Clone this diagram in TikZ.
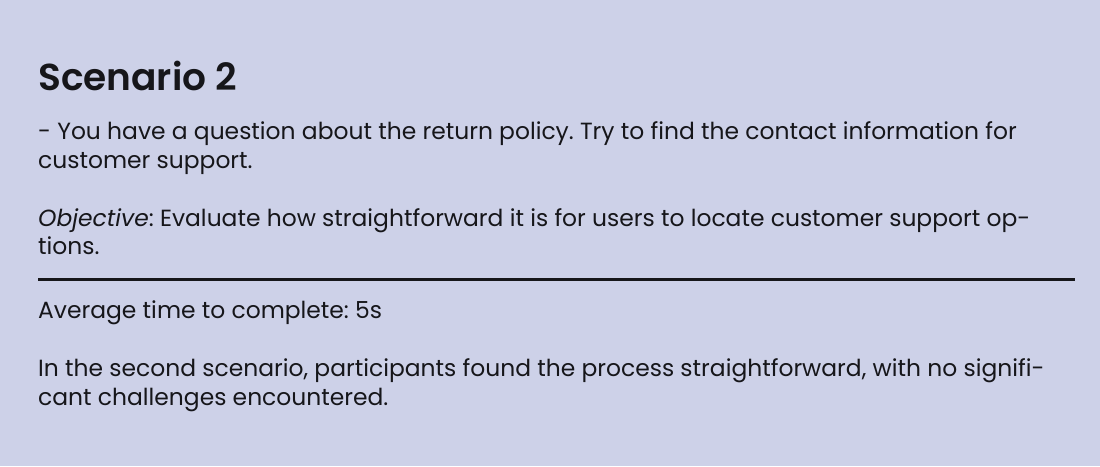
\documentclass[tikz,border=0pt]{standalone}
\usepackage{fontspec}
\setmainfont{Poppins}
\frenchspacing
\definecolor{bg}{RGB}{205,209,232}
\definecolor{ink}{RGB}{22,22,26}
\begin{document}
\begin{tikzpicture}[x=1pt,y=-1pt,
  body/.style={anchor=base west,inner sep=0pt,text=ink,font=\fontsize{23.4}{28}\selectfont},
  ttl/.style={anchor=base west,inner sep=0pt,text=ink,font=\fontspec{Poppins SemiBold}\fontsize{37.5}{40}\selectfont}]
\fill[bg] (0,0) rectangle (1100,466);
\useasboundingbox (0,0) rectangle (1100,466);
\node[ttl] (title) at (38,90) {Scenario 2};
\node[body] (l1) at (38,139) {- You have a question about the return policy. Try to find the contact information for};
\node[body] (l2) at (38,168) {customer support.};
\node[body] (l3) at (38,226) {\textit{Objective}: Evaluate how straightforward it is for users to locate customer support op-};
\node[body] (l4) at (38,254) {tions.};
\coordinate (r1) at (38,279);
\coordinate (r2) at (1075,279);
\draw[ink,line width=3pt] (r1) -- (r2);
\node[body] (l5) at (38,318) {Average time to complete: 5s};
\node[body] (l6) at (38,376) {In the second scenario, participants found the process straightforward, with no signifi-};
\node[body] (l7) at (38,405) {cant challenges encountered.};
\end{tikzpicture}
\end{document}
